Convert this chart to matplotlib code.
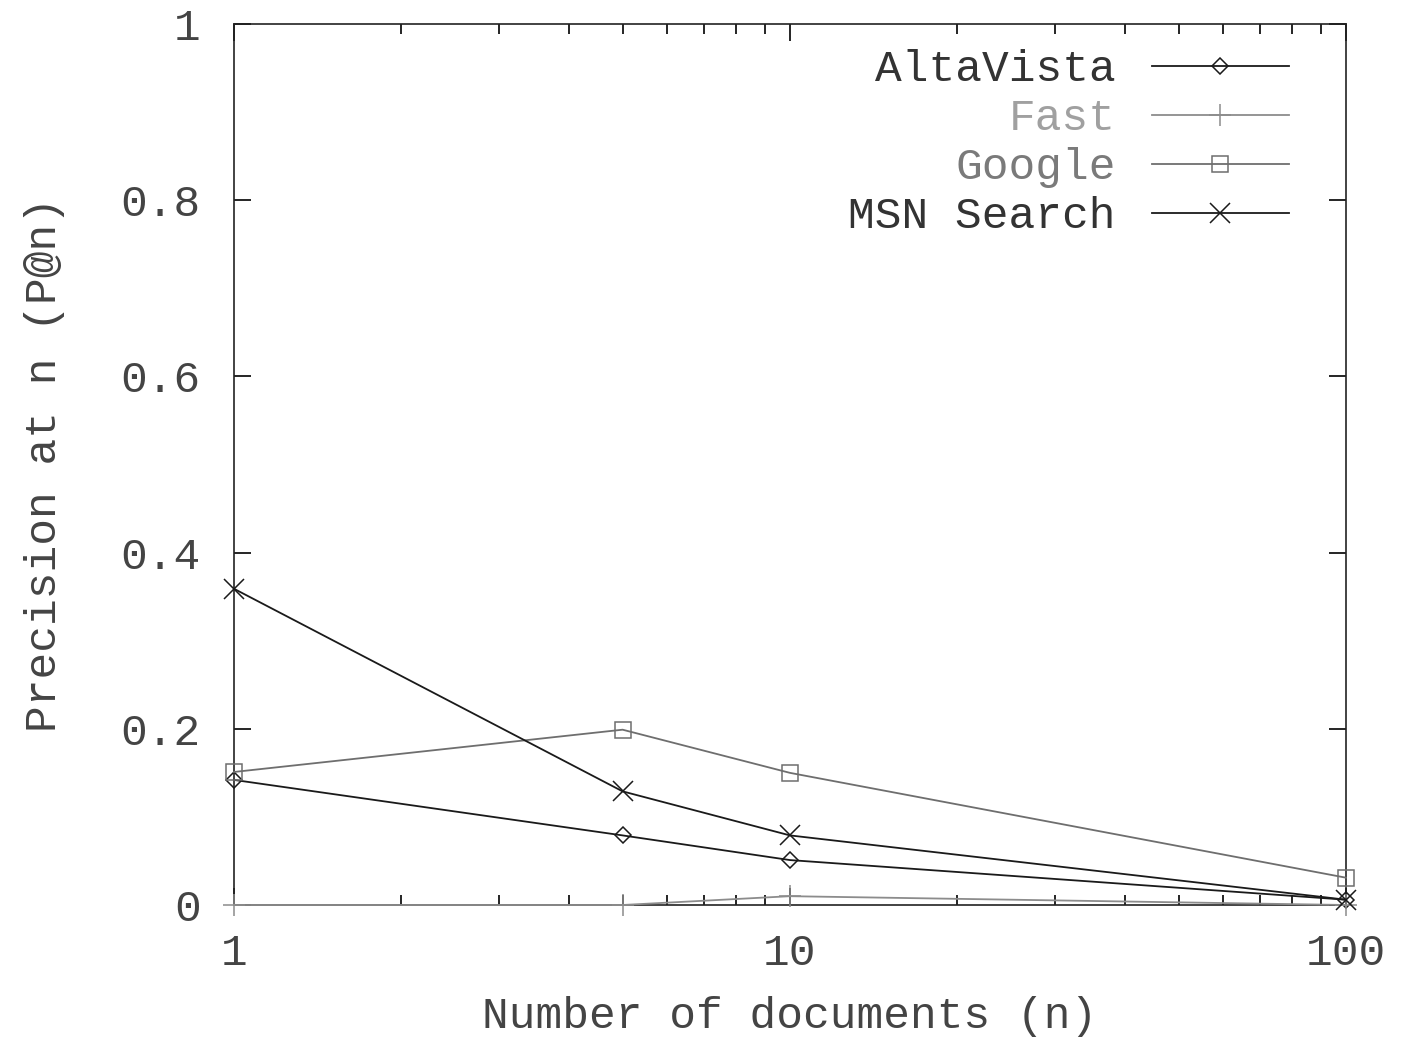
import numpy as np
import matplotlib.pyplot as plt
from matplotlib.ticker import FixedLocator, NullFormatter

# Data
n_docs = [1, 5, 10, 100]
altavista = [0.142, 0.079, 0.051, 0.006]
fast = [0.0, 0.0, 0.010, 0.0]
google = [0.151, 0.199, 0.150, 0.031]
msn = [0.359, 0.129, 0.079, 0.006]

series = [
    ("AltaVista", altavista, "D", "#1a1a1a", 8),
    ("Fast", fast, "+", "#8c8c8c", 16),
    ("Google", google, "s", "#6e6e6e", 12),
    ("MSN Search", msn, "x", "#1a1a1a", 14),
]
label_colors = ["#333333", "#a0a0a0", "#7a7a7a", "#333333"]

font = "Liberation Mono"
fs = 32
txt_col = "#444444"

fig = plt.figure(figsize=(14.06, 10.46), dpi=100)
ax = fig.add_axes([0.1664, 0.1348, 0.9573 - 0.1664, 0.977 - 0.1348])

for name, vals, mk, col, ms in series:
    ax.plot(n_docs, vals, color=col, lw=1.3, marker=mk, markersize=ms,
            markerfacecolor="none", markeredgecolor=col, markeredgewidth=1.1,
            label=name, clip_on=False, zorder=3)

ax.set_xscale("log")
ax.set_xlim(1, 100)
ax.set_ylim(0, 1)
ax.xaxis.set_major_locator(FixedLocator([1, 10, 100]))
ax.set_xticklabels(["1", "10", "100"])
minors = [m * d for d in (1, 10) for m in range(2, 10)]
ax.xaxis.set_minor_locator(FixedLocator(minors))
ax.xaxis.set_minor_formatter(NullFormatter())
ax.set_yticks([0, 0.2, 0.4, 0.6, 0.8, 1])
ax.set_yticklabels(["0", "0.2", "0.4", "0.6", "0.8", "1"])

ax.tick_params(which="major", direction="in", length=12, width=1.2,
               top=True, right=True, labelsize=fs)
ax.tick_params(axis="x", which="major", pad=20)
ax.tick_params(axis="y", which="major", pad=24)
ax.tick_params(which="minor", direction="in", length=7, width=1.2,
               top=True, right=True)
for lab in ax.get_xticklabels() + ax.get_yticklabels():
    lab.set_fontfamily(font)
    lab.set_color(txt_col)
for s in ax.spines.values():
    s.set_linewidth(1.2)
    s.set_color("#222222")

ax.set_xlabel("Number of documents (n)", fontsize=fs, fontfamily=font,
              color=txt_col, labelpad=16)
ax.set_ylabel("Precision at n (P@n)", fontsize=fs, fontfamily=font,
              color=txt_col, labelpad=40)

leg = ax.legend(loc="upper right", bbox_to_anchor=(0.985, 1.017), frameon=False,
                markerfirst=False, handlelength=3.1, handletextpad=0.8,
                labelspacing=0.18, prop={"family": font, "size": fs})
for txt, c in zip(leg.get_texts(), label_colors):
    txt.set_color(c)

fig.savefig("out.png", dpi=100)
